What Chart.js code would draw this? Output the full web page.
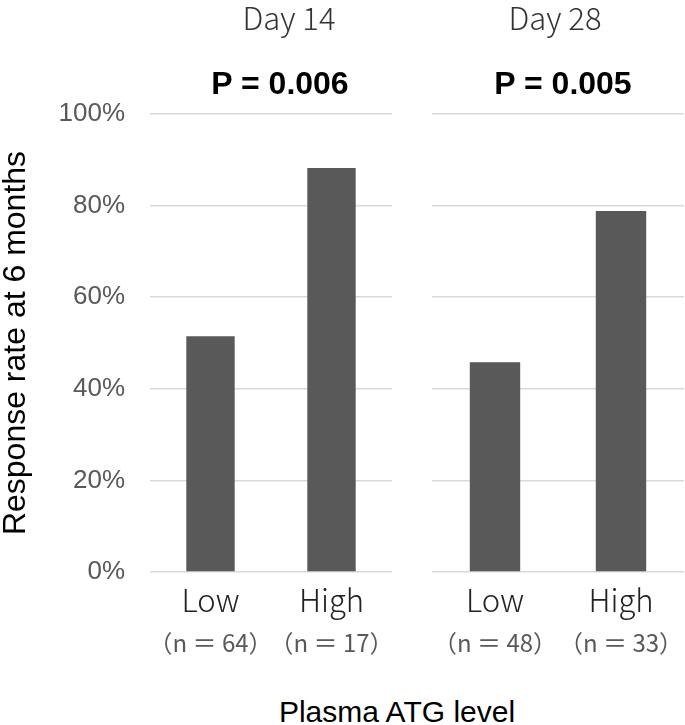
<!DOCTYPE html>
<html>
<head>
<meta charset="utf-8">
<script src="https://cdn.jsdelivr.net/npm/chart.js@4"></script>
<style>
  body { margin: 0; background: #fff; }
  #wrap { position: relative; width: 685px; height: 725px; overflow: hidden; }
  canvas { position: absolute; top: 0; }
  .lbl { position: absolute; transform: translateX(-50%); white-space: nowrap; line-height: 1; }
  .day { font: 300 31px "Noto Sans CJK JP", sans-serif; color: #333; }
  .pval { font: bold 32px "Liberation Sans", Arial, sans-serif; color: #000; }
  .xt { font: 30px "Liberation Sans", Arial, sans-serif; color: #000; }
</style>
</head>
<body>
<div id="wrap">
  <canvas id="c14" width="400" height="690" style="left:0"></canvas>
  <canvas id="c28" width="285" height="690" style="left:400px"></canvas>
  <div class="lbl day" style="left:289px; top:-6px">Day 14</div>
  <div class="lbl day" style="left:555px; top:-6px">Day 28</div>
  <div class="lbl pval" style="left:280px; top:65px">P = 0.006</div>
  <div class="lbl pval" style="left:563px; top:65px">P = 0.005</div>
  <div class="lbl xt" style="left:397px; top:695px">Plasma ATG level</div>
</div>
<script>
const groups = ['Low', 'High'];
const nDay14 = ['（n ＝ 64）', '（n ＝ 17）'];
const nDay28 = ['（n ＝ 48）', '（n ＝ 33）'];
const day14 = [51.5, 88.2];
const day28 = [45.8, 78.8];
const yTicks = [0, 20, 40, 60, 80, 100];

const barColor = '#595959';
const gridColor = '#d9d9d9';

function makeChart(id, values, nLabels, withAxis) {
  const ctx = document.getElementById(id).getContext('2d');
  return new Chart(ctx, {
    type: 'bar',
    data: {
      labels: groups,
      datasets: [{ data: values, backgroundColor: barColor, categoryPercentage: 1, barPercentage: 0.4 }]
    },
    options: {
      responsive: false,
      animation: false,
      devicePixelRatio: 1,
      layout: { padding: withAxis ? { top: 114, right: 8, left: 0, bottom: 30 } : { top: 114, right: 1, left: 32, bottom: 30 } },
      plugins: { legend: { display: false }, tooltip: { enabled: false } },
      scales: {
        x: {
          weight: 0,
          offset: true,
          grid: { display: false },
          border: { display: false },
          ticks: {
            color: '#222', padding: 2, autoSkip: false, maxRotation: 0, minRotation: 0,
            font: { family: '"Noto Sans CJK JP"', size: 31, weight: '300' }
          },
          afterFit: s => { s.height = 48; }
        },
        x2: {
          type: 'category',
          position: 'bottom',
          weight: 1,
          offset: true,
          labels: nLabels,
          grid: { display: false },
          border: { display: false },
          ticks: {
            color: '#595959', padding: 0, autoSkip: false, maxRotation: 0, minRotation: 0,
            font: { family: '"Noto Sans CJK JP"', size: 24, weight: 'normal' }
          },
          afterFit: s => { s.height = 40; }
        },
        y: {
          min: 0,
          max: 100,
          afterBuildTicks: s => { s.ticks = yTicks.map(v => ({ value: v })); },
          grid: { color: gridColor, lineWidth: 1.5, drawTicks: false },
          border: { display: false },
          ticks: {
            display: withAxis,
            padding: 25,
            color: '#595959',
            font: { family: '"Liberation Sans"', size: 26 },
            callback: v => v + '%'
          },
          title: {
            display: withAxis,
            text: 'Response rate at 6 months',
            color: '#000',
            padding: 0,
            font: { family: '"Liberation Sans"', size: 32, lineHeight: 1 }
          },
          afterFit: s => { s.width = withAxis ? 150 : 0; }
        }
      }
    }
  });
}

makeChart('c14', day14, nDay14, true);
makeChart('c28', day28, nDay28, false);
</script>
</body>
</html>
